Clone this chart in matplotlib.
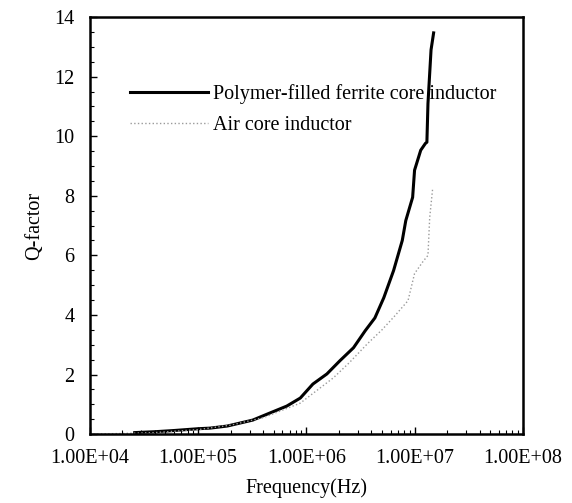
import numpy as np
import matplotlib
matplotlib.use('Agg')
import matplotlib.pyplot as plt
from matplotlib.ticker import FixedLocator, FuncFormatter, LogLocator, MultipleLocator, NullFormatter

plt.rcParams['font.family'] = ['Liberation Serif', 'DejaVu Serif']

# Q-factor vs frequency
freq_ferrite = [2.6e4, 4e4, 6e4, 1.0e5, 1.29e5, 1.86e5, 3.2e5, 4.35e5, 6.6e5, 8.8e5, 1.15e6,
                1.55e6, 2.04e6, 2.73e6, 3.5e6, 4.3e6, 5.2e6, 6.4e6, 7.7e6, 8.3e6, 9.6e6, 1.0e7,
                1.14e7, 1.26e7, 1.3e7, 1.33e7, 1.42e7, 1.5e7]
q_ferrite = [0.05, 0.08, 0.12, 0.18, 0.2, 0.27, 0.47, 0.67, 0.94, 1.21, 1.68,
             2.02, 2.46, 2.9, 3.47, 3.9, 4.58, 5.49, 6.5, 7.17, 7.95, 8.86,
             9.53, 9.76, 9.8, 11.1, 12.9, 13.47]

freq_air = [1e4, 2e4, 4e4, 1e5, 2e5, 4e5, 8.8e5, 1.78e6, 2.5e6, 3.66e6, 5.0e6, 6.5e6,
            8.7e6, 1e7, 1.2e7, 1.33e7, 1.38e7, 1.47e7]
q_air = [0.0, 0.02, 0.05, 0.15, 0.3, 0.55, 1.04, 1.89, 2.4, 3.03, 3.5, 3.95,
         4.48, 5.39, 5.8, 6.0, 7.27, 8.25]

x_ticks = [1e4, 1e5, 1e6, 1e7, 1e8]

fig = plt.figure(figsize=(5.72, 5.03), dpi=100)
ax = fig.add_axes([0.157, 0.137, 0.757, 0.829])

ax.plot(freq_ferrite, q_ferrite, color='black', lw=2.2, label='Polymer-filled ferrite core inductor')
ax.plot(freq_air, q_air, color='#9a9a9a', lw=1.0, ls=':', label='Air core inductor')

ax.set_xscale('log')
ax.set_xlim(1e4, 1e8)
ax.set_ylim(0, 14)
ax.xaxis.set_major_locator(FixedLocator(x_ticks))
ax.xaxis.set_major_formatter(FuncFormatter(lambda v, p: f"{v:.2E}"))
ax.xaxis.set_minor_locator(LogLocator(base=10, subs=np.arange(2, 10)))
ax.xaxis.set_minor_formatter(NullFormatter())
ax.yaxis.set_major_locator(MultipleLocator(2))
ax.yaxis.set_minor_locator(MultipleLocator(0.5))

ax.tick_params(which='both', direction='in', labelsize=14.5, top=False, right=False)
ax.tick_params(which='major', length=5, width=1)
ax.tick_params(which='minor', length=3, width=0.8)
ax.tick_params(axis='x', pad=11)
ax.tick_params(axis='y', pad=11)
for s in ax.spines.values():
    s.set_linewidth(1.8)

ax.set_xlabel('Frequency(Hz)', fontsize=14.5, labelpad=7)
ax.set_ylabel('Q-factor', fontsize=14.5, labelpad=7)

ax.legend(loc='upper left', bbox_to_anchor=(0.092, 0.84), frameon=False, fontsize=14.5,
          handlelength=3.9, handletextpad=0.25, labelspacing=0.6, borderpad=0, borderaxespad=0)

fig.savefig('out.png', dpi=100)
